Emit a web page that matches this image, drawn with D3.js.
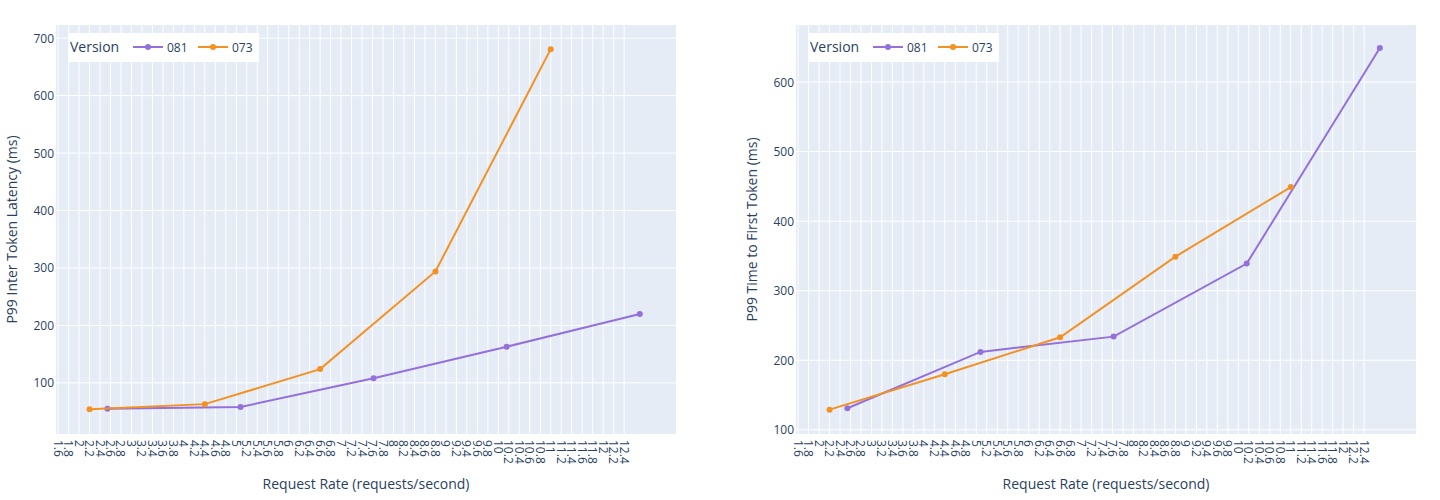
<!DOCTYPE html>
<html lang="en">
<head>
    <meta charset="UTF-8">
    <title>Request Rate Benchmarks</title>
    <script src="https://d3js.org/d3.v7.min.js"></script>
    <style>
        body { margin: 0; background: #fff; }
        svg { font-family: "Open Sans", verdana, sans-serif; }
    </style>
</head>
<body>
<div id="chart"></div>
<script>
    // data
    const versions = ["081", "073"];
    const rate081 = [2.54, 5.08, 7.62, 10.16, 12.7];
    const rate073 = [2.2, 4.4, 6.6, 8.8, 11.0];
    const itl081 = [55, 58, 108, 163, 220];
    const itl073 = [54, 63, 124, 294, 681];
    const ttft081 = [131, 212, 234, 339, 649];
    const ttft073 = [129, 180, 233, 349, 449];
    const xTicks = d3.range(16, 125, 2).map(v => v / 10);
    const itlTicks = [100, 200, 300, 400, 500, 600, 700];
    const ttftTicks = [100, 200, 300, 400, 500, 600];

    const colors = { "081": "#9370db", "073": "#f39123" };
    const textColor = "#2a3f5f";

    const svg = d3.select("#chart").append("svg")
        .attr("width", 1440)
        .attr("height", 500);

    function drawPanel(left, yTitle, yDomain, yTicks, series) {
        const width = 620, top = 25, height = 409;
        const g = svg.append("g").attr("transform", `translate(${left},${top})`);

        const x = d3.scaleLinear().domain([1.56, 13.39]).range([0, width]);
        const y = d3.scaleLinear().domain(yDomain).range([height, 0]);

        g.append("rect")
            .attr("width", width)
            .attr("height", height)
            .attr("fill", "#e5ecf6");

        g.selectAll(".vgrid")
            .data(xTicks)
            .enter().append("line")
            .attr("x1", d => x(d)).attr("x2", d => x(d))
            .attr("y1", 0).attr("y2", height)
            .attr("stroke", "#fff").attr("stroke-width", 1);

        g.selectAll(".hgrid")
            .data(yTicks)
            .enter().append("line")
            .attr("x1", 0).attr("x2", width)
            .attr("y1", d => y(d)).attr("y2", d => y(d))
            .attr("stroke", "#fff").attr("stroke-width", 1);

        // x tick labels, rotated like plotly tickangle 90
        g.selectAll(".xlab")
            .data(xTicks)
            .enter().append("text")
            .attr("transform", d => `translate(${x(d)},${height + 6}) rotate(90)`)
            .attr("dominant-baseline", "central")
            .attr("fill", textColor)
            .style("font-size", "12px")
            .text(d => d3.format("~g")(d));

        g.selectAll(".ylab")
            .data(yTicks)
            .enter().append("text")
            .attr("x", -2)
            .attr("y", d => y(d))
            .attr("text-anchor", "end")
            .attr("dominant-baseline", "central")
            .attr("fill", textColor)
            .style("font-size", "12px")
            .text(d => d);

        g.append("text")
            .attr("x", width / 2)
            .attr("y", height + 55)
            .attr("text-anchor", "middle")
            .attr("fill", textColor)
            .style("font-size", "14px")
            .text("Request Rate (requests/second)");

        g.append("text")
            .attr("transform", `translate(-45,${height / 2}) rotate(-90)`)
            .attr("text-anchor", "middle")
            .attr("dominant-baseline", "central")
            .attr("fill", textColor)
            .style("font-size", "14px")
            .text(yTitle);

        const line = d3.line()
            .x(d => x(d[0]))
            .y(d => y(d[1]));

        series.forEach(s => {
            const pts = s.xs.map((v, i) => [v, s.ys[i]]);
            g.append("path")
                .datum(pts)
                .attr("fill", "none")
                .attr("stroke", colors[s.name])
                .attr("stroke-width", 2)
                .attr("d", line);
            g.selectAll(null)
                .data(pts)
                .enter().append("circle")
                .attr("cx", d => x(d[0]))
                .attr("cy", d => y(d[1]))
                .attr("r", 3)
                .attr("fill", colors[s.name]);
        });

        // legend
        const legend = g.append("g").attr("transform", "translate(12,8)");
        legend.append("rect")
            .attr("width", 191)
            .attr("height", 29)
            .attr("fill", "#fff");
        legend.append("text")
            .attr("x", 2)
            .attr("y", 13)
            .attr("dominant-baseline", "central")
            .attr("fill", textColor)
            .style("font-size", "14px")
            .text("Version");
        versions.forEach((v, i) => {
            const lx = 65 + i * 65;
            legend.append("line")
                .attr("x1", lx).attr("x2", lx + 30)
                .attr("y1", 14).attr("y2", 14)
                .attr("stroke", colors[v]).attr("stroke-width", 2);
            legend.append("circle")
                .attr("cx", lx + 15).attr("cy", 14).attr("r", 3)
                .attr("fill", colors[v]);
            legend.append("text")
                .attr("x", lx + 34)
                .attr("y", 14)
                .attr("dominant-baseline", "central")
                .attr("fill", textColor)
                .style("font-size", "12px")
                .text(v);
        });
    }

    drawPanel(56, "P99 Inter Token Latency (ms)", [11, 723], itlTicks, [
        { name: "081", xs: rate081, ys: itl081 },
        { name: "073", xs: rate073, ys: itl073 }
    ]);

    drawPanel(796, "P99 Time to First Token (ms)", [94, 682], ttftTicks, [
        { name: "081", xs: rate081, ys: ttft081 },
        { name: "073", xs: rate073, ys: ttft073 }
    ]);
</script>
</body>
</html>
